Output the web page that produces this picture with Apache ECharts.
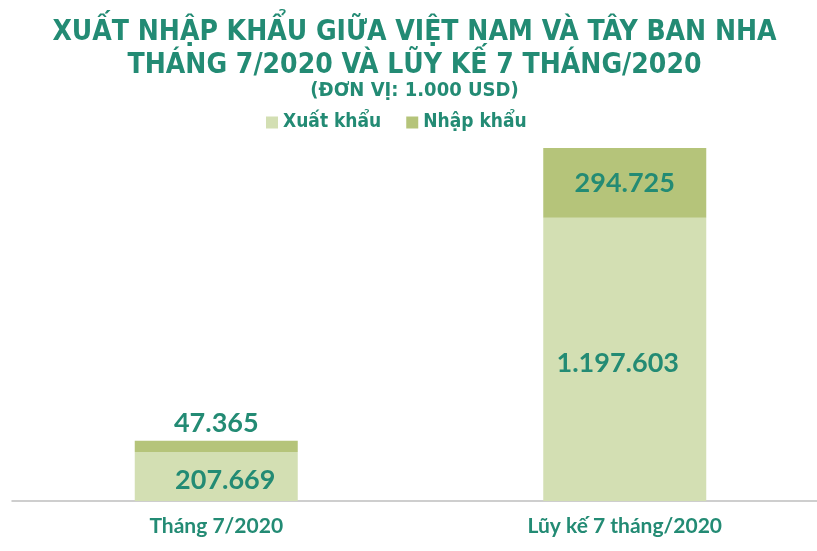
<!DOCTYPE html>
<html><head><meta charset="utf-8">
<script src="https://cdn.jsdelivr.net/npm/echarts@6/dist/echarts.min.js"></script>
<style>html,body{margin:0;padding:0;background:#fff;overflow:hidden}#c{width:829px;height:551px}</style>
</head><body><div id="c"></div>
<script>
const categories = ['Tháng 7/2020', 'Lũy kế 7 tháng/2020'];
const exportValues = [207669, 1197603];
const importValues = [47365, 294725];
const seriesNames = ['Xuất khẩu', 'Nhập khẩu'];

const teal = '#238b74';
const titleFont = "'DejaVu Sans Condensed', 'Liberation Sans', sans-serif";
const fmt = v => v.toLocaleString('de-DE');
const totalMax = Math.max(...exportValues.map((v, i) => v + importValues[i]));
const labelFont = { fontFamily: 'Lato', fontWeight: 'bold', fontSize: 27, color: teal };
const exportLabelOffsets = [[9, 4], [-7, 4]];

const chart = echarts.init(document.getElementById('c'), null, { renderer: 'canvas' });
chart.setOption({
  animation: false,
  backgroundColor: '#fff',
  title: [
    { text: 'XUẤT NHẬP KHẨU GIỮA VIỆT NAM VÀ TÂY BAN NHA\nTHÁNG 7/2020 VÀ LŨY KẾ 7 THÁNG/2020', left: 'center', top: 11,
      textStyle: { fontFamily: titleFont, fontWeight: 'bold', fontSize: 28, lineHeight: 33, color: teal } },
    { text: '(ĐƠN VỊ: 1.000 USD)', left: 'center', top: 76,
      textStyle: { fontFamily: titleFont, fontWeight: 'bold', fontSize: 20, color: teal } }
  ],
  legend: {
    data: seriesNames, top: 108, left: 261, itemWidth: 12, itemHeight: 12, itemGap: 25,
    icon: 'rect',
    textStyle: { fontFamily: titleFont, fontWeight: 'bold', fontSize: 19, color: teal }
  },
  grid: { left: 12, right: 0, top: 148, bottom: 50 },
  xAxis: {
    type: 'category', data: categories,
    axisLine: { lineStyle: { color: '#bfbfbf', width: 1.5 } },
    axisTick: { show: false },
    axisLabel: { margin: 15, fontFamily: 'Lato', fontWeight: 'bold', fontSize: 21, color: teal }
  },
  yAxis: { type: 'value', min: 0, max: totalMax, show: false, splitLine: { show: false } },
  series: [
    { name: seriesNames[0], type: 'bar', stack: 's', barWidth: 163,
      itemStyle: { color: '#d3dfb3' },
      label: { show: true, position: 'inside', formatter: p => fmt(p.value), ...labelFont },
      data: exportValues.map((v, i) => ({ value: v, label: { offset: exportLabelOffsets[i] } })) },
    { name: seriesNames[1], type: 'bar', stack: 's', barWidth: 163,
      itemStyle: { color: '#b5c47a' },
      label: { show: true, formatter: p => fmt(p.value), ...labelFont },
      data: importValues.map((v, i) => ({ value: v, label: { position: i === 0 ? 'top' : 'inside', distance: 4 } })) }
  ]
});
</script></body></html>
